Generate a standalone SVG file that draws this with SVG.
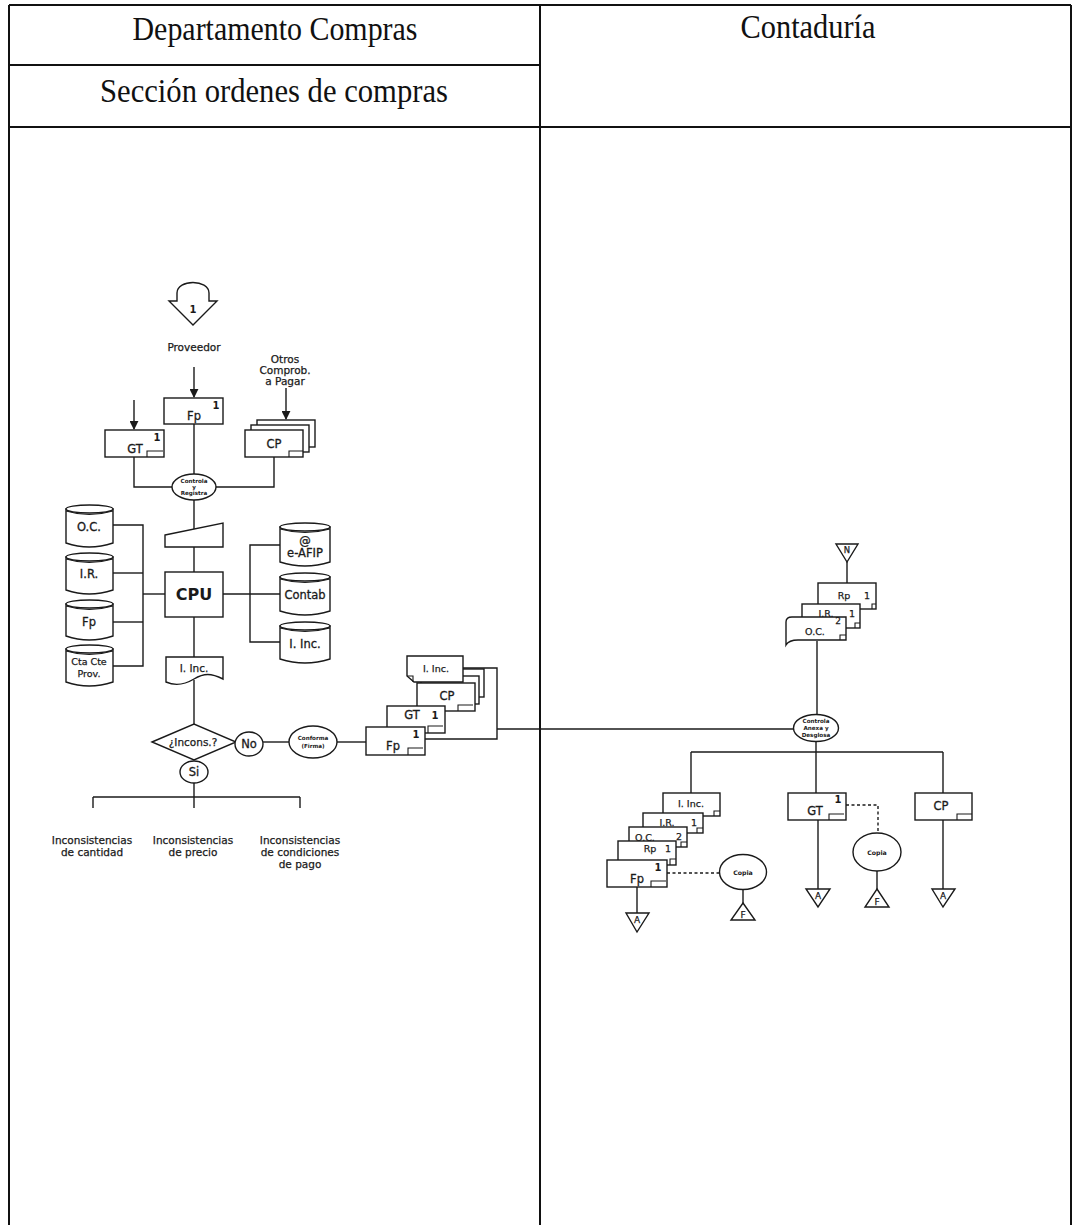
<svg xmlns="http://www.w3.org/2000/svg" width="1073" height="1225" viewBox="0 0 1073 1225">
<style>
.frame{stroke:#111;stroke-width:2;fill:none}
.ln{stroke:#1a1a1a;stroke-width:1.4;fill:none}
.dash{stroke:#1a1a1a;stroke-width:1.4;fill:none;stroke-dasharray:3,2.5}
.box{fill:#fff;stroke:#1a1a1a;stroke-width:1.4}
.mk{stroke:#1a1a1a;stroke-width:1.1;fill:none}
.hd{font-family:"Liberation Serif","Times New Roman",serif;font-size:33px;fill:#111;text-anchor:middle}
.t{font-family:"DejaVu Sans",Verdana,sans-serif;font-size:11.5px;fill:#1a1a1a;stroke:#1a1a1a;stroke-width:0.3;text-anchor:middle}
.s{font-family:"DejaVu Sans",Verdana,sans-serif;font-size:10.5px;fill:#1a1a1a;stroke:#1a1a1a;stroke-width:0.25;text-anchor:middle}
.d{font-family:"DejaVu Sans",Verdana,sans-serif;font-size:9.5px;fill:#1a1a1a;stroke:#1a1a1a;stroke-width:0.25;text-anchor:middle}
.n{font-family:"DejaVu Sans",Verdana,sans-serif;font-size:10px;font-weight:bold;fill:#1a1a1a;text-anchor:middle}
.xs{font-family:"DejaVu Sans",Verdana,sans-serif;font-size:5.6px;font-weight:bold;fill:#1a1a1a;text-anchor:middle}
.cpu{font-family:"DejaVu Sans",Verdana,sans-serif;font-size:16px;font-weight:bold;fill:#1a1a1a;text-anchor:middle}
</style>
<defs>
<marker id="ah" viewBox="0 0 10 10" refX="9" refY="5" markerWidth="9" markerHeight="9" markerUnits="userSpaceOnUse" orient="auto">
<path d="M0,0 L10,5 L0,10 Z" fill="#1a1a1a"/>
</marker>
</defs>
<rect width="1073" height="1225" fill="#fff"/>

<g id="table">
<line class="frame" x1="9" y1="5" x2="1071" y2="5"/>
<line class="frame" x1="9" y1="5" x2="9" y2="1225"/>
<line class="frame" x1="1071" y1="5" x2="1071" y2="1225"/>
<line class="frame" x1="540" y1="5" x2="540" y2="1225"/>
<line class="frame" x1="9" y1="65" x2="540" y2="65"/>
<line class="frame" x1="9" y1="127" x2="1071" y2="127"/>
<text class="hd" x="275" y="40" textLength="285" lengthAdjust="spacingAndGlyphs">Departamento Compras</text>
<text class="hd" x="274" y="102" textLength="348" lengthAdjust="spacingAndGlyphs">Sección ordenes de compras</text>
<text class="hd" x="808" y="38" textLength="135" lengthAdjust="spacingAndGlyphs">Contaduría</text>
</g>

<g id="connectors">
<line class="ln" x1="194" y1="367" x2="194" y2="397" marker-end="url(#ah)"/>
<line class="ln" x1="134" y1="400" x2="134" y2="429" marker-end="url(#ah)"/>
<line class="ln" x1="286" y1="388" x2="286" y2="419" marker-end="url(#ah)"/>
<polyline class="ln" points="134,457 134,487 172,487"/>
<line class="ln" x1="194" y1="424" x2="194" y2="474"/>
<polyline class="ln" points="274,457 274,487 216,487"/>
<line class="ln" x1="194" y1="500" x2="194" y2="529"/>
<line class="ln" x1="194" y1="547" x2="194" y2="572"/>
<polyline class="ln" points="113,525 143,525 143,666 113,666"/>
<line class="ln" x1="113" y1="573" x2="143" y2="573"/>
<line class="ln" x1="113" y1="622" x2="143" y2="622"/>
<line class="ln" x1="143" y1="594" x2="165" y2="594"/>
<polyline class="ln" points="280,545 250,545 250,642 280,642"/>
<line class="ln" x1="223" y1="594" x2="280" y2="594"/>
<line class="ln" x1="194" y1="617" x2="194" y2="658"/>
<line class="ln" x1="194" y1="680" x2="194" y2="724"/>
<line class="ln" x1="263" y1="742" x2="289" y2="742"/>
<line class="ln" x1="337" y1="742" x2="366" y2="742"/>
<line class="ln" x1="194" y1="783" x2="194" y2="808"/>
<line class="ln" x1="93" y1="797" x2="300" y2="797"/>
<line class="ln" x1="93" y1="797" x2="93" y2="808"/>
<line class="ln" x1="300" y1="797" x2="300" y2="808"/>
<polyline class="ln" points="463,668 497,668 497,739 425,739"/>
<line class="ln" x1="497" y1="729" x2="794" y2="729"/>
<line class="ln" x1="847" y1="562" x2="847" y2="583"/>
<line class="ln" x1="817" y1="641" x2="817" y2="715"/>
<line class="ln" x1="816" y1="742" x2="816" y2="793"/>
<line class="ln" x1="691" y1="752" x2="943" y2="752"/>
<line class="ln" x1="691" y1="752" x2="691" y2="793"/>
<line class="ln" x1="943" y1="752" x2="943" y2="793"/>
<polyline class="dash" points="846,805 878,805 878,833"/>
<line class="ln" x1="877" y1="871" x2="877" y2="889"/>
<line class="ln" x1="818" y1="820" x2="818" y2="889"/>
<line class="ln" x1="943" y1="820" x2="943" y2="889"/>
<line class="dash" x1="667" y1="873" x2="720" y2="873"/>
<line class="ln" x1="743" y1="889" x2="743" y2="903"/>
<line class="ln" x1="637" y1="887" x2="637" y2="913"/>
</g>

<g id="connector-1">
<path class="box" d="M169,301 L177,301 L177,293 C177,279 209,279 209,293 L209,301 L217,301 L193,325 Z"/>
<text class="n" x="193" y="313">1</text>
</g>
<g id="proveedor"><text class="s" x="194" y="351">Proveedor</text></g>
<g id="otros">
<text class="s" x="285" y="363">Otros</text>
<text class="s" x="285" y="374">Comprob.</text>
<text class="s" x="285" y="385">a Pagar</text>
</g>

<g id="doc-fp">
<rect class="box" x="164" y="398" width="59" height="26"/>
<text class="n" x="216" y="409">1</text>
<text class="t" x="194" y="420">Fp</text>
</g>
<g id="doc-gt">
<rect class="box" x="105" y="430" width="59" height="27"/>
<text class="n" x="157" y="441">1</text>
<text class="t" x="135" y="453">GT</text>
<path class="mk" d="M147,457 V451 H163"/>
</g>
<g id="doc-cp">
<rect class="box" x="257" y="420" width="58" height="27"/>
<rect class="box" x="251" y="425" width="58" height="27"/>
<rect class="box" x="245" y="430" width="58" height="27"/>
<text class="t" x="274" y="448">CP</text>
<path class="mk" d="M289,457 V451 H303"/>
</g>

<g id="controla-registra">
<ellipse class="box" cx="194" cy="487" rx="22" ry="13"/>
<text class="xs" x="194" y="483">Controla</text>
<text class="xs" x="194" y="489">y</text>
<text class="xs" x="194" y="495">Registra</text>
</g>
<g id="manual-input"><polygon class="box" points="165,535 223,523 223,547 165,547"/></g>
<g id="cpu">
<rect class="box" x="165" y="572" width="58" height="45"/>
<text class="cpu" x="194" y="600">CPU</text>
</g>

<g id="db-oc">
<path class="box" d="M66,509 V543 Q89,551 113,543 V509 Z"/>
<ellipse class="box" cx="89.5" cy="509" rx="23.5" ry="4"/>
<path class="mk" d="M66,511 Q89,518 113,511"/>
<text class="t" x="89" y="531">O.C.</text>
</g>
<g id="db-ir">
<path class="box" d="M66,557 V590 Q89,598 113,590 V557 Z"/>
<ellipse class="box" cx="89.5" cy="557" rx="23.5" ry="4"/>
<path class="mk" d="M66,559 Q89,566 113,559"/>
<text class="t" x="89" y="578">I.R.</text>
</g>
<g id="db-fp">
<path class="box" d="M66,604 V636 Q89,644 113,636 V604 Z"/>
<ellipse class="box" cx="89.5" cy="604" rx="23.5" ry="4"/>
<path class="mk" d="M66,606 Q89,613 113,606"/>
<text class="t" x="89" y="626">Fp</text>
</g>
<g id="db-ctacte">
<path class="box" d="M66,649 V682 Q89,690 113,682 V649 Z"/>
<ellipse class="box" cx="89.5" cy="649" rx="23.5" ry="4"/>
<path class="mk" d="M66,651 Q89,658 113,651"/>
<text class="d" x="89" y="665">Cta Cte</text>
<text class="d" x="89" y="677">Prov.</text>
</g>

<g id="db-eafip">
<path class="box" d="M280,527 V562 Q305,570 330,562 V527 Z"/>
<ellipse class="box" cx="305" cy="527" rx="25" ry="4"/>
<path class="mk" d="M280,529 Q305,536 330,529"/>
<text class="t" x="305" y="545">@</text>
<text class="t" x="305" y="557">e-AFIP</text>
</g>
<g id="db-contab">
<path class="box" d="M280,577 V611 Q305,619 330,611 V577 Z"/>
<ellipse class="box" cx="305" cy="577" rx="25" ry="4"/>
<path class="mk" d="M280,579 Q305,586 330,579"/>
<text class="t" x="305" y="599">Contab</text>
</g>
<g id="db-iinc">
<path class="box" d="M280,626 V659 Q305,667 330,659 V626 Z"/>
<ellipse class="box" cx="305" cy="626" rx="25" ry="4"/>
<path class="mk" d="M280,628 Q305,635 330,628"/>
<text class="t" x="305" y="648">I. Inc.</text>
</g>

<g id="doc-iinc">
<path class="box" d="M166,657 H223 V679 C211,673 204,673 194,679 C184,685 175,686 166,682 Z"/>
<text class="s" x="194" y="672">I. Inc.</text>
</g>
<g id="decision">
<polygon class="box" points="152,742 194,724 236,742 194,760"/>
<text class="s" x="193" y="746">¿Incons.?</text>
</g>
<g id="no">
<ellipse class="box" cx="249" cy="744" rx="14" ry="12"/>
<text class="t" x="249" y="748">No</text>
</g>
<g id="si">
<ellipse class="box" cx="194" cy="772" rx="14" ry="11"/>
<text class="t" x="194" y="776">Si</text>
</g>
<g id="conforma">
<ellipse class="box" cx="313" cy="742" rx="24" ry="16"/>
<text class="xs" x="313" y="740">Conforma</text>
<text class="xs" x="313" y="748">(Firma)</text>
</g>
<g id="inc-cantidad">
<text class="s" x="92" y="844">Inconsistencias</text>
<text class="s" x="92" y="856">de cantidad</text>
</g>
<g id="inc-precio">
<text class="s" x="193" y="844">Inconsistencias</text>
<text class="s" x="193" y="856">de precio</text>
</g>
<g id="inc-condiciones">
<text class="s" x="300" y="844">Inconsistencias</text>
<text class="s" x="300" y="856">de condiciones</text>
<text class="s" x="300" y="868">de pago</text>
</g>

<g id="stack-middle">
<rect class="box" x="425" y="669" width="59" height="28"/>
<rect class="box" x="421" y="676" width="58" height="28"/>
<path class="box" d="M407,656 H463 V682 H414 L407,676 Z"/>
<path class="mk" d="M407,676 H413 V682"/>
<text class="d" x="436" y="672">I. Inc.</text>
<rect class="box" x="417" y="683" width="58" height="28"/>
<text class="t" x="447" y="700">CP</text>
<path class="mk" d="M458,711 V705 H473"/>
<rect class="box" x="387" y="706" width="58" height="27"/>
<text class="t" x="412" y="719">GT</text>
<text class="n" x="435" y="719">1</text>
<path class="mk" d="M428,733 V726 H443"/>
<rect class="box" x="366" y="727" width="59" height="28"/>
<text class="n" x="416" y="738">1</text>
<text class="t" x="393" y="750">Fp</text>
<path class="mk" d="M408,755 V748 H423"/>
</g>

<g id="connector-n">
<polygon class="box" points="836,544 858,544 847,562"/>
<text class="d" x="847" y="553" style="font-size:8.5px">N</text>
</g>
<g id="stack-top-right">
<rect class="box" x="818" y="583" width="58" height="26"/>
<text class="d" x="844" y="599">Rp</text>
<text class="d" x="867" y="599">1</text>
<path class="mk" d="M872,609 V604 H876"/>
<rect class="box" x="802" y="604" width="58" height="24"/>
<text class="d" x="826" y="617">I.R.</text>
<text class="d" x="852" y="617">1</text>
<path class="mk" d="M855,628 V623 H860"/>
<path class="box" d="M786,622 Q786,617 792,617 H846 V640 H798 Q789,640 786,645 Z"/>
<text class="d" x="815" y="635">O.C.</text>
<text class="d" x="838" y="624" style="font-size:9px">2</text>
<path class="mk" d="M840,640 V635 H846"/>
</g>
<g id="controla-anexa">
<ellipse class="box" cx="816" cy="728" rx="22.5" ry="13.5"/>
<text class="xs" x="816" y="722.5">Controla</text>
<text class="xs" x="816" y="729.5">Anexa y</text>
<text class="xs" x="816" y="736.5">Desglosa</text>
</g>

<g id="stack-bottom-left">
<rect class="box" x="663" y="793" width="57" height="23"/>
<text class="d" x="691" y="807">I. Inc.</text>
<path class="mk" d="M714,816 V811 H720"/>
<rect class="box" x="643" y="813" width="60" height="20"/>
<text class="d" x="667" y="826">I.R.</text>
<text class="d" x="694" y="826">1</text>
<path class="mk" d="M697,833 V828 H703"/>
<rect class="box" x="629" y="827" width="58" height="20"/>
<text class="d" x="645" y="841">O.C.</text>
<text class="d" x="679" y="840">2</text>
<path class="mk" d="M681,847 V842 H687"/>
<rect class="box" x="618" y="841" width="58" height="24"/>
<text class="d" x="650" y="852">Rp</text>
<text class="d" x="668" y="852">1</text>
<path class="mk" d="M670,865 V859 H676"/>
<rect class="box" x="607" y="860" width="60" height="27"/>
<text class="n" x="658" y="871">1</text>
<text class="t" x="637" y="883">Fp</text>
<path class="mk" d="M651,887 V881 H666"/>
</g>
<g id="copia-left">
<ellipse class="box" cx="743" cy="872" rx="23.5" ry="17.5"/>
<text class="xs" x="743" y="874.5" style="font-size:6.2px">Copia</text>
</g>
<g id="f-left">
<polygon class="box" points="743,903 755,920 731,920"/>
<text class="d" x="743" y="918" style="font-size:9px">F</text>
</g>
<g id="a-left">
<polygon class="box" points="626,913 649,913 637,932"/>
<text class="d" x="637" y="923" style="font-size:9px">A</text>
</g>

<g id="doc-gt-right">
<rect class="box" x="788" y="793" width="58" height="27"/>
<text class="n" x="838" y="803">1</text>
<text class="t" x="815" y="815">GT</text>
<path class="mk" d="M829,820 V814 H844"/>
</g>
<g id="copia-right">
<ellipse class="box" cx="877" cy="852" rx="24" ry="19"/>
<text class="xs" x="877" y="854.5" style="font-size:6.2px">Copia</text>
</g>
<g id="f-right">
<polygon class="box" points="877,889 889,907 865,907"/>
<text class="d" x="877" y="905" style="font-size:9px">F</text>
</g>
<g id="a-gt">
<polygon class="box" points="806,889 830,889 818,907"/>
<text class="d" x="818" y="899" style="font-size:9px">A</text>
</g>
<g id="doc-cp-right">
<rect class="box" x="915" y="793" width="57" height="27"/>
<text class="t" x="941" y="810">CP</text>
<path class="mk" d="M957,820 V814 H972"/>
</g>
<g id="a-cp">
<polygon class="box" points="932,889 955,889 943,907"/>
<text class="d" x="943" y="899" style="font-size:9px">A</text>
</g>
</svg>
